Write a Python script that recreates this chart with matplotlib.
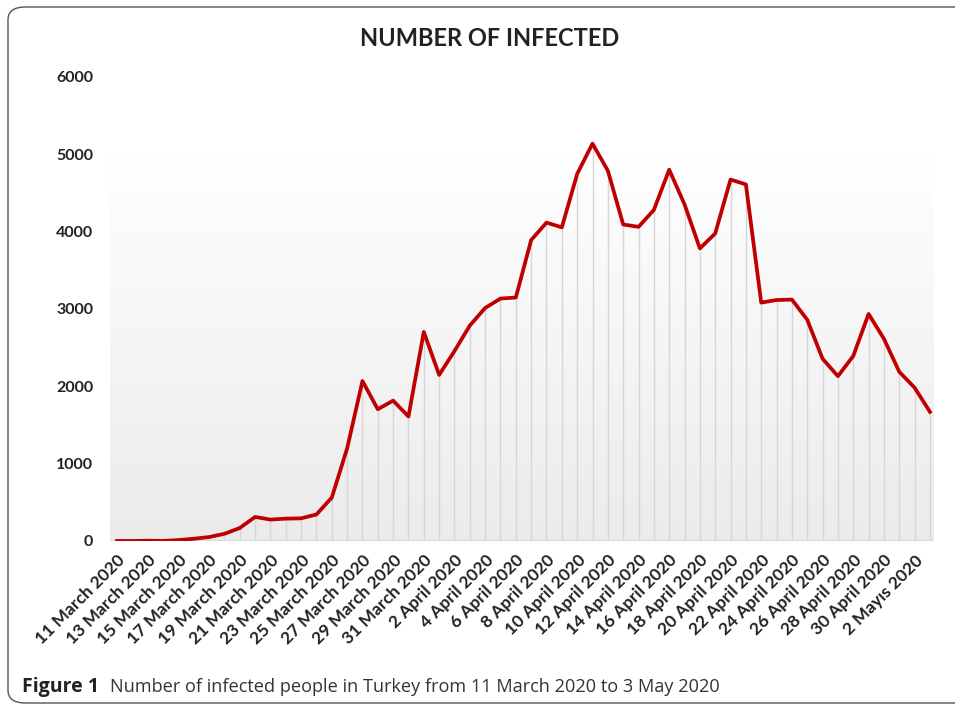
import numpy as np
import matplotlib
matplotlib.use("Agg")
import matplotlib.pyplot as plt
from matplotlib.patches import FancyBboxPatch

# -----------------------------------------------------------------------------
# DATA  (daily new infections, 11 March - 3 May 2020)
# -----------------------------------------------------------------------------

days = (
    [f"{d} March 2020" for d in range(11, 32)]
    + [f"{d} April 2020" for d in range(1, 31)]
    + ["1 Mayıs 2020", "2 Mayıs 2020", "3 Mayıs 2020"]
)
infected = [
    1, 0, 4, 1, 12, 29, 51, 93, 168, 311, 277, 289, 293, 343, 561, 1196,
    2069, 1704, 1815, 1610, 2704, 2148, 2456, 2786, 3013, 3135, 3148, 3892,
    4117, 4056, 4747, 5138, 4789, 4093, 4062, 4281, 4801, 4353, 3783, 3977,
    4674, 4611, 3083, 3116, 3122, 2861, 2357, 2131, 2392, 2936, 2615, 2188,
    1983, 1670,
]
y_ticks = [0, 1000, 2000, 3000, 4000, 5000, 6000]

TITLE = "NUMBER OF INFECTED"
CAPTION_BOLD = "Figure 1"
CAPTION = "Number of infected people in Turkey from 11 March 2020 to 3 May 2020"

# -----------------------------------------------------------------------------
# PLOT
# -----------------------------------------------------------------------------

W, H = 955, 710
fig = plt.figure(figsize=(W / 100, H / 100), dpi=100)
fig.patch.set_facecolor("white")

# rounded frame around the figure
frame = FancyBboxPatch((8 / W, 7 / H), 965 / W, 696 / H,
                       boxstyle="round,pad=0,rounding_size=0.018",
                       transform=fig.transFigure, fill=False,
                       edgecolor="#555555", linewidth=1.0)
fig.patches.append(frame)

ax = fig.add_axes([110 / W, (H - 541) / H, (933 - 110) / W, (541 - 77) / H])
x = np.arange(len(infected))

ax.set_xlim(-0.46, 53.2)
ax.set_ylim(0, 6000)

# gradient plot-area background (white at top, light grey at the bottom)
grad = np.linspace(1, 0, 256).reshape(-1, 1)
ax.imshow(grad, extent=(-0.46, 53.2, 0, 5050), aspect="auto",
          cmap=matplotlib.colors.LinearSegmentedColormap.from_list(
              "g", ["#ffffff", "#ebebeb"]),
          vmin=0, vmax=1, zorder=0, origin="lower")

ax.vlines(x, 0, infected, color="#d6d6d6", linewidth=1.0, zorder=1)
ax.axhline(0, color="#d9d9d9", linewidth=1.5, zorder=1)
ax.plot(x, infected, color="#c00000", linewidth=2.7, zorder=3,
        solid_joinstyle="round")

for s in ax.spines.values():
    s.set_visible(False)
ax.tick_params(length=0)

ax.set_yticks(y_ticks)
ax.set_yticklabels([str(v) for v in y_ticks], fontfamily="Lato",
                   fontweight="bold", fontsize=11.5, color="#222222")
ax.tick_params(axis="y", pad=12)

ax.set_xticks(x[::2])
ax.set_xticklabels(days[::2], rotation=45, ha="right", va="top",
                   rotation_mode="anchor", fontfamily="Lato",
                   fontweight="bold", fontsize=12.5, color="#222222")
ax.tick_params(axis="x", pad=8)

fig.text(490 / W, 1 - 38 / H, TITLE, ha="center", va="center",
         fontfamily="Lato", fontweight="bold", fontsize=17, color="#222222")

fig.text(22 / W, 1 - 687 / H, CAPTION_BOLD, ha="left", va="center",
         fontfamily="Open Sans", fontweight="bold", fontsize=14,
         color="#222222")
fig.text(110 / W, 1 - 687 / H, CAPTION, ha="left", va="center",
         fontfamily="Open Sans", fontsize=13.1, color="#333333")

fig.savefig("out.png", dpi=100)
